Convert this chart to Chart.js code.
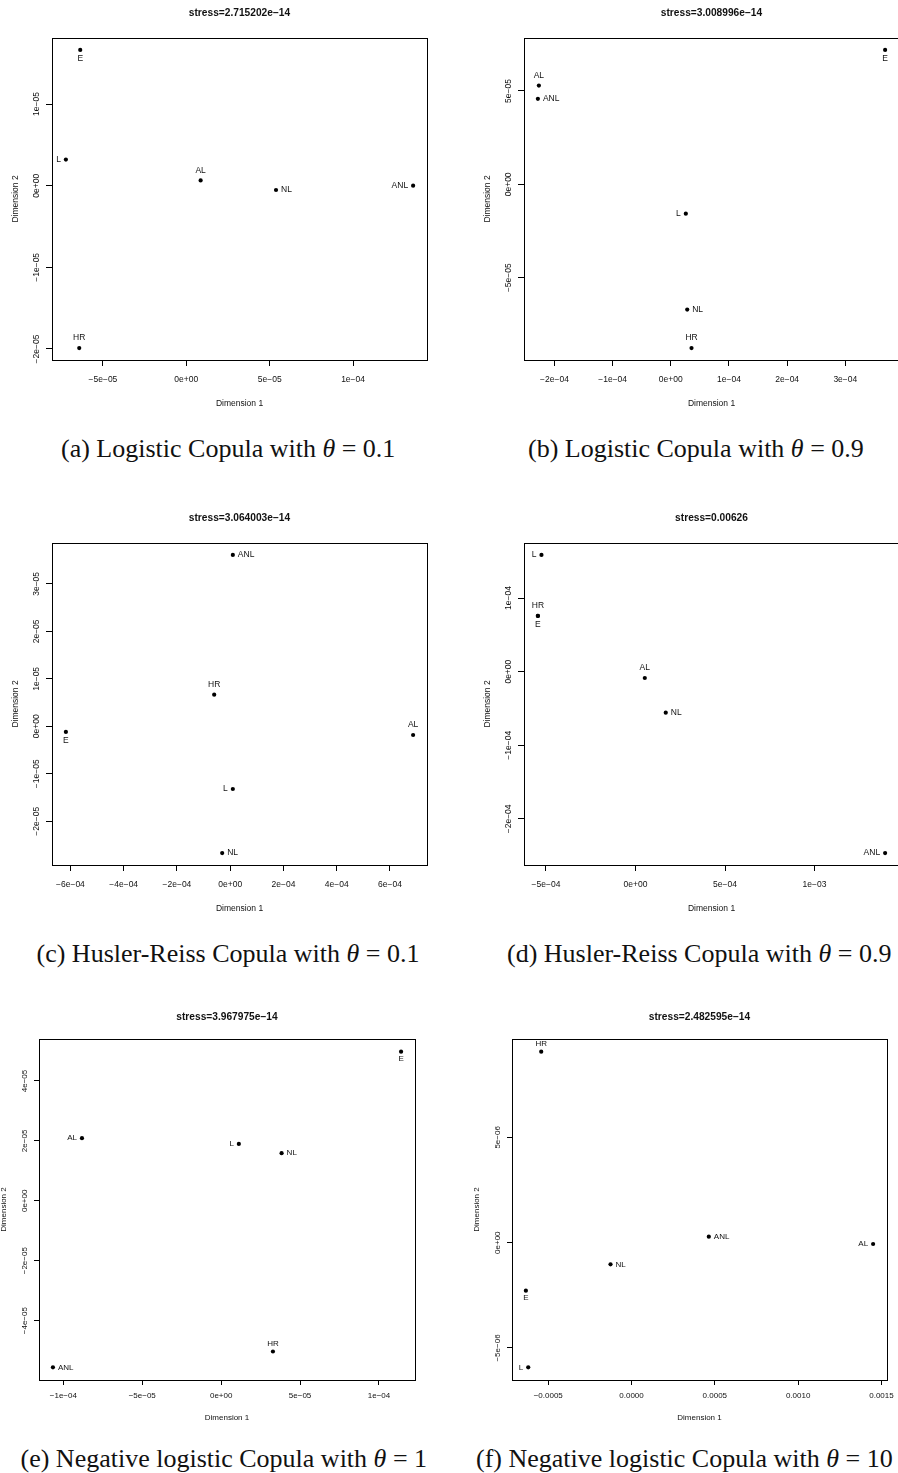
<!DOCTYPE html>
<html>
<head>
<meta charset="utf-8">
<title>MDS configurations of the copula models</title>
<script src="https://cdn.jsdelivr.net/npm/chart.js@4.4.1/dist/chart.umd.min.js"></script>
<style>
  html, body { margin: 0; padding: 0; width: 898px; height: 1473px; overflow: hidden; background: #fff; }
  #page { position: relative; width: 898px; height: 1473px; overflow: hidden; }
  #page canvas { position: absolute; }
  .cap { position: absolute; font-family: "Liberation Serif", "Times New Roman", serif; font-size: 26px;
         line-height: 30px; white-space: nowrap; color: #111; }
</style>
</head>
<body>
<div id="page"></div>
<script>
// fitted models, same order in every panel
var sites = ['AL', 'ANL', 'NL', 'L', 'HR', 'E'];

// (a) logistic copula, theta = 0.1
var dim1A = [8.6e-6, 1.36e-4, 5.38e-5, -7.22e-5, -6.42e-5, -6.36e-5];
var dim2A = [6.5e-7, 0, -5.3e-7, 3.2e-6, -1.989e-5, 1.663e-5];
var xTicksA = ['−5e−05', '0e+00', '5e−05', '1e−04'];
var yTicksA = ['−2e−05', '−1e−05', '0e+00', '1e−05'];

// (b) logistic copula, theta = 0.9
var dim1B = [-2.268e-4, -2.285e-4, 2.82e-5, 2.58e-5, 3.56e-5, 3.684e-4];
var dim2B = [5.29e-5, 4.58e-5, -6.71e-5, -1.57e-5, -8.77e-5, 7.2e-5];
var xTicksB = ['−2e−04', '−1e−04', '0e+00', '1e−04', '2e−04', '3e−04'];
var yTicksB = ['−5e−05', '0e+00', '5e−05'];

// (c) Husler-Reiss copula, theta = 0.1
var dim1C = [6.87e-4, 1.0e-5, -3.0e-5, 1.0e-5, -6.0e-5, -6.17e-4];
var dim2C = [-1.83e-6, 3.61e-5, -2.67e-5, -1.32e-5, 6.67e-6, -1.19e-6];
var xTicksC = ['−6e−04', '−4e−04', '−2e−04', '0e+00', '2e−04', '4e−04', '6e−04'];
var yTicksC = ['−2e−05', '−1e−05', '0e+00', '1e−05', '2e−05', '3e−05'];

// (d) Husler-Reiss copula, theta = 0.9 (HR and E coincide)
var dim1D = [5.2e-5, 1.394e-3, 1.69e-4, -5.25e-4, -5.45e-4, -5.45e-4];
var dim2D = [-8.6e-6, -2.465e-4, -5.57e-5, 1.586e-4, 7.57e-5, 7.57e-5];
var xTicksD = ['−5e−04', '0e+00', '5e−04', '1e−03'];
var yTicksD = ['−2e−04', '−1e−04', '0e+00', '1e−04'];

// (e) negative logistic copula, theta = 1
var dim1E = [-8.82e-5, -1.066e-4, 3.83e-5, 1.12e-5, 3.28e-5, 1.14e-4];
var dim2E = [2.09e-5, -5.56e-5, 1.59e-5, 1.9e-5, -5.03e-5, 4.98e-5];
var xTicksE = ['−1e−04', '−5e−05', '0e+00', '5e−05', '1e−04'];
var yTicksE = ['−4e−05', '−2e−05', '0e+00', '2e−05', '4e−05'];

// (f) negative logistic copula, theta = 10
var dim1F = [1.45e-3, 4.64e-4, -1.26e-4, -6.2e-4, -5.42e-4, -6.34e-4];
var dim2F = [-6.3e-8, 2.85e-7, -1.03e-6, -5.92e-6, 9.07e-6, -2.28e-6];
var xTicksF = ['−0.0005', '0.0000', '0.0005', '0.0010', '0.0015'];
var yTicksF = ['−5e−06', '0e+00', '5e−06'];

var stress = ['2.715202e−14', '3.008996e−14', '3.064003e−14', '0.00626', '3.967975e−14', '2.482595e−14'];

// where each name sits next to its dot
var placeA = ['above', 'left', 'right', 'left', 'above', 'below'];
var placeB = ['above', 'right', 'right', 'left', 'above', 'below'];
var placeC = ['above', 'right', 'right', 'left', 'above', 'below'];
var placeD = ['above', 'left', 'right', 'left', 'above', 'below'];
var placeE = ['left', 'right', 'right', 'left', 'above', 'below'];
var placeF = ['left', 'right', 'right', 'left', 'above', 'below'];

// spacing around the plot box; the bottom row was saved a bit tighter
var roomy = { title: 25, xTick: 20, xTitle: 44, yTick: 15.6, yTitle: 36, tickLen: 6, font: 8.5, above: 10, below: 9 };
var tight = { title: 21.5, xTick: 16, xTitle: 37.7, yTick: 14.3, yTitle: 35.3, tickLen: 5, font: 8, above: 8, below: 7.5 };

var panels = [
  { dim1: dim1A, dim2: dim2A, xt: xTicksA, yt: yTicksA, place: placeA, stress: stress[0], box: [52, 38, 427, 360], g: roomy,
    caption: '(a) Logistic Copula with <i>θ</i> = 0.1', capX: 228, capY: 449 },
  { dim1: dim1B, dim2: dim2B, xt: xTicksB, yt: yTicksB, place: placeB, stress: stress[1], box: [524, 38, 899, 360], g: roomy,
    caption: '(b) Logistic Copula with <i>θ</i> = 0.9', capX: 696, capY: 449 },
  { dim1: dim1C, dim2: dim2C, xt: xTicksC, yt: yTicksC, place: placeC, stress: stress[2], box: [52, 543, 427, 865], g: roomy,
    caption: '(c) Husler-Reiss Copula with <i>θ</i> = 0.1', capX: 228, capY: 954 },
  { dim1: dim1D, dim2: dim2D, xt: xTicksD, yt: yTicksD, place: placeD, stress: stress[3], box: [524, 543, 899, 865], g: roomy,
    caption: '(d) Husler-Reiss Copula with <i>θ</i> = 0.9', capX: 699, capY: 954 },
  { dim1: dim1E, dim2: dim2E, xt: xTicksE, yt: yTicksE, place: placeE, stress: stress[4], box: [39, 1039, 415, 1380], g: tight,
    caption: '(e) Negative logistic Copula with <i>θ</i> = 1', capX: 224, capY: 1459 },
  { dim1: dim1F, dim2: dim2F, xt: xTicksF, yt: yTicksF, place: placeF, stress: stress[5], box: [512, 1039, 887, 1380], g: tight,
    caption: '(f) Negative logistic Copula with <i>θ</i> = 10', capLeft: 476, capY: 1459 }
];

var SANS = '"Liberation Sans", Arial, Helvetica, sans-serif';
var PAD_L = 60, PAD_T = 40, PAD_R = 20, PAD_B = 60;

function num(label) { return Number(label.replace(/−/g, '-')); }

// same as R's default: data range stretched by 4% on each side
function span(vals) {
  var lo = Math.min.apply(null, vals), hi = Math.max.apply(null, vals);
  var d = (hi - lo) * 0.04;
  return [lo - d, hi + d];
}

function decorations(p) {
  var g = p.g;
  return {
    id: 'decorations',
    afterDraw: function (chart) {
      var ctx = chart.ctx, a = chart.chartArea;
      var xs = chart.scales.x, ys = chart.scales.y;
      ctx.save();
      ctx.strokeStyle = '#000';
      ctx.lineWidth = 1;
      ctx.strokeRect(Math.round(a.left) + 0.5, Math.round(a.top) + 0.5,
                     Math.round(a.right - a.left), Math.round(a.bottom - a.top));

      ctx.fillStyle = '#111';
      ctx.textBaseline = 'middle';
      ctx.textAlign = 'center';
      ctx.font = 'bold 10.2px ' + SANS;
      ctx.fillText('stress=' + p.stress, (a.left + a.right) / 2, a.top - g.title);

      ctx.font = g.font + 'px ' + SANS;
      p.xt.forEach(function (lab) {
        ctx.fillText(lab, xs.getPixelForValue(num(lab)), a.bottom + g.xTick);
      });
      ctx.fillText('Dimension 1', (a.left + a.right) / 2, a.bottom + g.xTitle);

      p.yt.forEach(function (lab) {
        ctx.save();
        ctx.translate(a.left - g.yTick, ys.getPixelForValue(num(lab)));
        ctx.rotate(-Math.PI / 2);
        ctx.fillText(lab, 0, 0);
        ctx.restore();
      });
      ctx.save();
      ctx.translate(a.left - g.yTitle, (a.top + a.bottom) / 2);
      ctx.rotate(-Math.PI / 2);
      ctx.fillText('Dimension 2', 0, 0);
      ctx.restore();

      // model names beside their dots
      chart.getDatasetMeta(0).data.forEach(function (pt, i) {
        var where = p.place[i];
        ctx.textAlign = 'center';
        if (where === 'above') ctx.fillText(sites[i], pt.x, pt.y - g.above);
        else if (where === 'below') ctx.fillText(sites[i], pt.x, pt.y + g.below);
        else if (where === 'left') { ctx.textAlign = 'right'; ctx.fillText(sites[i], pt.x - 5, pt.y); }
        else { ctx.textAlign = 'left'; ctx.fillText(sites[i], pt.x + 5, pt.y); }
      });
      ctx.restore();
    }
  };
}

function axis(range, ticks, g, fit) {
  return {
    type: 'linear',
    min: range[0],
    max: range[1],
    afterBuildTicks: function (s) { s.ticks = ticks.map(function (t) { return { value: num(t) }; }); },
    ticks: { display: false },
    grid: { drawOnChartArea: false, drawTicks: true, tickLength: g.tickLen, color: '#000', lineWidth: 1 },
    border: { display: false },
    afterFit: fit
  };
}

var page = document.getElementById('page');

panels.forEach(function (p) {
  var b = p.box;
  var cv = document.createElement('canvas');
  var w = (b[2] - b[0]) + PAD_L + PAD_R, h = (b[3] - b[1]) + PAD_T + PAD_B;
  cv.width = w; cv.height = h;
  cv.style.left = (b[0] - PAD_L) + 'px';
  cv.style.top = (b[1] - PAD_T) + 'px';
  cv.style.width = w + 'px';
  cv.style.height = h + 'px';
  page.appendChild(cv);

  var pts = p.dim1.map(function (x, i) { return { x: x, y: p.dim2[i] }; });

  new Chart(cv, {
    type: 'scatter',
    data: {
      datasets: [{
        data: pts,
        pointRadius: 2.1,
        pointBackgroundColor: '#000',
        pointBorderWidth: 0,
        pointStyle: 'circle'
      }]
    },
    options: {
      responsive: false,
      animation: false,
      events: [],
      layout: { autoPadding: false, padding: { left: 0, top: PAD_T, right: PAD_R, bottom: 0 } },
      plugins: { legend: { display: false }, tooltip: { enabled: false } },
      scales: {
        x: axis(span(p.dim1), p.xt, p.g, function (s) { s.height = PAD_B; }),
        y: axis(span(p.dim2), p.yt, p.g, function (s) { s.width = PAD_L; })
      }
    },
    plugins: [decorations(p)]
  });

  var cap = document.createElement('div');
  cap.className = 'cap';
  cap.innerHTML = p.caption;
  cap.style.top = (p.capY - 15) + 'px';
  page.appendChild(cap);
  if (p.capLeft !== undefined) cap.style.left = p.capLeft + 'px';
  else cap.style.left = (p.capX - cap.offsetWidth / 2) + 'px';
});
</script>
</body>
</html>
